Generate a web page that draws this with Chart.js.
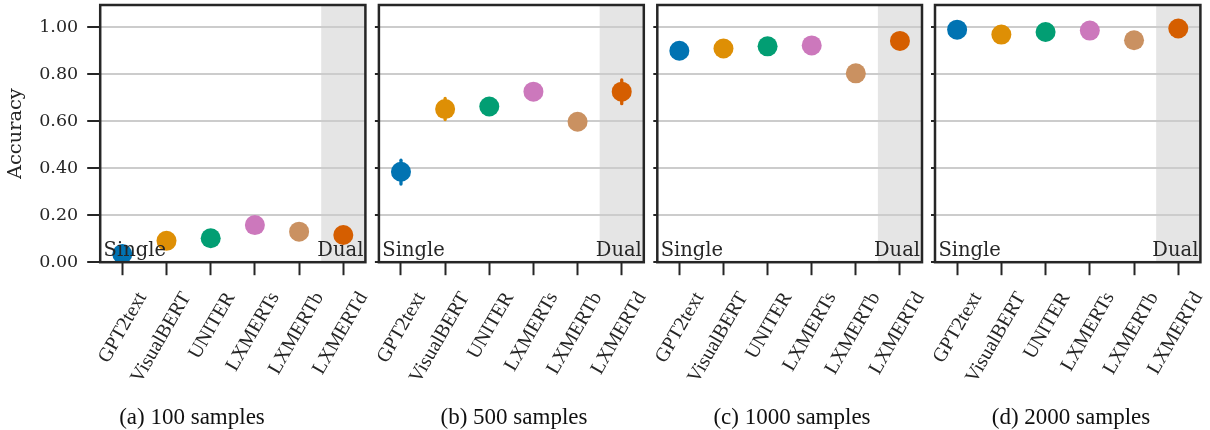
<!DOCTYPE html>
<html>
<head>
<meta charset="utf-8">
<script src="https://cdn.jsdelivr.net/npm/chart.js@4.4.1/dist/chart.umd.min.js"></script>
<style>
html,body{margin:0;padding:0;background:#fff;}
#wrap{position:relative;width:1210px;height:430px;overflow:hidden;background:#fff;}
#wrap canvas{position:absolute;top:0;}
.cap{position:absolute;top:404.7px;font-family:'Liberation Serif';font-size:23px;line-height:23px;color:#111;white-space:nowrap;transform:translateX(-50%);}
</style>
</head>
<body>
<div id="wrap"></div>
<script>
// ---------------- data ----------------
const categories = ['GPT2text', 'VisualBERT', 'UNITER', 'LXMERTs', 'LXMERTb', 'LXMERTd'];
const modelColors = ['#0173b2', '#de8f05', '#029e73', '#cc78bc', '#ca9161', '#d55e00'];
const captions = ['(a) 100 samples', '(b) 500 samples', '(c) 1000 samples', '(d) 2000 samples'];
const groupLabels = ['Single', 'Dual'];
const dualStart = 4.5;            // category position where the dual-stream group begins
const yTickValues = [0, 0.2, 0.4, 0.6, 0.8, 1.0];
const yTickLabels = ['0.00', '0.20', '0.40', '0.60', '0.80', '1.00'];
const yMin = 0, yMax = 1.095;

const acc100  = [0.035, 0.091, 0.102, 0.158, 0.130, 0.116];
const acc500  = [0.385, 0.652, 0.663, 0.726, 0.598, 0.726];
const acc1000 = [0.900, 0.910, 0.919, 0.923, 0.804, 0.942];
const acc2000 = [0.990, 0.969, 0.980, 0.986, 0.945, 0.995];

const errLo100  = [null, null, null, null, null, null];
const errHi100  = [null, null, null, null, null, null];
const errLo500  = [0.333, 0.607, null, null, null, 0.675];
const errHi500  = [0.434, 0.697, null, null, null, 0.776];
const errLo1000 = [null, null, null, null, null, null];
const errHi1000 = [null, null, null, null, null, null];
const errLo2000 = [null, null, null, null, null, null];
const errHi2000 = [null, null, null, null, null, null];

const seriesValues = [acc100, acc500, acc1000, acc2000];
const seriesLo = [errLo100, errLo500, errLo1000, errLo2000];
const seriesHi = [errHi100, errHi500, errHi1000, errHi2000];

// ---------------- layout ----------------
const H = 430, AREA_TOP = 5, AREA_BOTTOM = 262.2;
const layoutSpec = [
  {cl: 0,   cw: 370, al: 100.2, ar: 365.4, tl: 13, showY: true,  capX: 192},
  {cl: 370, cw: 278, al: 378.9, ar: 643.8, tl: 4,  showY: false, capX: 514},
  {cl: 648, cw: 278, al: 657.3, ar: 922.0, tl: 4,  showY: false, capX: 792},
  {cl: 926, cw: 284, al: 935.0, ar: 1200.4, tl: 4, showY: false, capX: 1071}
];
const DARK = '#262626';

const wrap = document.getElementById('wrap');

function makePanel(idx) {
  const p = layoutSpec[idx];
  const values = seriesValues[idx], lo = seriesLo[idx], hi = seriesHi[idx];
  const canvas = document.createElement('canvas');
  canvas.width = p.cw; canvas.height = H;
  canvas.style.left = p.cl + 'px';
  canvas.style.width = p.cw + 'px'; canvas.style.height = H + 'px';
  wrap.appendChild(canvas);

  const cap = document.createElement('div');
  cap.className = 'cap';
  cap.style.left = p.capX + 'px';
  cap.textContent = captions[idx];
  wrap.appendChild(cap);

  const yWidth = p.al - p.cl;
  const padRight = p.cl + p.cw - p.ar;

  const deco = {
    id: 'deco' + idx,
    beforeDraw(chart) {
      const {ctx, chartArea: a, scales: {x}} = chart;
      const sx = x.getPixelForValue(dualStart);
      ctx.save();
      ctx.fillStyle = '#e5e5e5';
      ctx.fillRect(sx, a.top, a.right - sx, a.bottom - a.top);
      ctx.restore();
    },
    beforeDatasetsDraw(chart) {
      const {ctx, scales: {x, y}} = chart;
      ctx.save();
      ctx.lineWidth = 3.3;
      ctx.lineCap = 'round';
      for (let i = 0; i < categories.length; i++) {
        if (lo[i] == null || hi[i] == null) continue;
        const px = x.getPixelForValue(i);
        ctx.strokeStyle = modelColors[i];
        ctx.beginPath();
        ctx.moveTo(px, y.getPixelForValue(lo[i]));
        ctx.lineTo(px, y.getPixelForValue(hi[i]));
        ctx.stroke();
      }
      ctx.restore();
    },
    afterDatasetsDraw(chart) {
      const {ctx, chartArea: a} = chart;
      ctx.save();
      ctx.font = '19.5px "DejaVu Serif"';
      ctx.fillStyle = DARK;
      ctx.textBaseline = 'alphabetic';
      ctx.textAlign = 'left';
      ctx.fillText(groupLabels[0], a.left + 3.4, a.bottom - 6);
      ctx.textAlign = 'right';
      ctx.fillText(groupLabels[1], a.right - 2, a.bottom - 6);
      ctx.restore();
    },
    afterDraw(chart) {
      const {ctx, chartArea: a} = chart;
      ctx.save();
      ctx.strokeStyle = DARK;
      ctx.lineWidth = 2.5;
      ctx.strokeRect(a.left, a.top, a.right - a.left, a.bottom - a.top);
      ctx.restore();
    }
  };

  new Chart(canvas, {
    type: 'line',
    data: {
      labels: categories,
      datasets: [{
        data: values,
        showLine: false,
        pointRadius: 10,
        pointHoverRadius: 10,
        pointBackgroundColor: modelColors,
        pointBorderWidth: 0,
        pointHoverBorderWidth: 0,
        clip: 0
      }]
    },
    options: {
      responsive: false,
      animation: false,
      events: [],
      layout: {autoPadding: false, padding: {top: AREA_TOP, right: padRight, left: 0, bottom: 0}},
      plugins: {legend: {display: false}, tooltip: {enabled: false}, title: {display: false}},
      scales: {
        x: {
          type: 'category',
          offset: true,
          grid: {display: true, drawOnChartArea: false, drawTicks: true, tickLength: 13, tickWidth: 2, tickColor: DARK, offset: false},
          border: {display: false},
          ticks: {
            autoSkip: false, minRotation: 60, maxRotation: 60,
            padding: 12.8, labelOffset: 20,
            color: DARK,
            font: {family: 'Liberation Serif', size: 20}
          },
          afterFit(s) { s.height = H - AREA_BOTTOM; s.paddingLeft = 0; s.paddingRight = 0; }
        },
        y: {
          min: yMin, max: yMax,
          afterBuildTicks(s) { s.ticks = yTickValues.map(v => ({value: v})); },
          grid: {color: '#cccccc', lineWidth: 2, drawTicks: true, tickLength: p.tl, tickWidth: 2, tickColor: DARK},
          border: {display: false},
          ticks: {
            padding: 9, color: DARK,
            font: {family: 'DejaVu Serif', size: 17.5},
            callback: (v, i) => p.showY ? yTickLabels[i] : ''
          },
          title: {
            display: p.showY, text: 'Accuracy', color: DARK,
            font: {family: 'DejaVu Serif', size: 19.4},
            padding: {top: 4.4, bottom: 0}
          },
          afterFit(s) { s.width = yWidth; s.paddingTop = 0; s.paddingBottom = 0; }
        }
      }
    },
    plugins: [deco]
  });
}

for (let i = 0; i < 4; i++) makePanel(i);
</script>
</body>
</html>
